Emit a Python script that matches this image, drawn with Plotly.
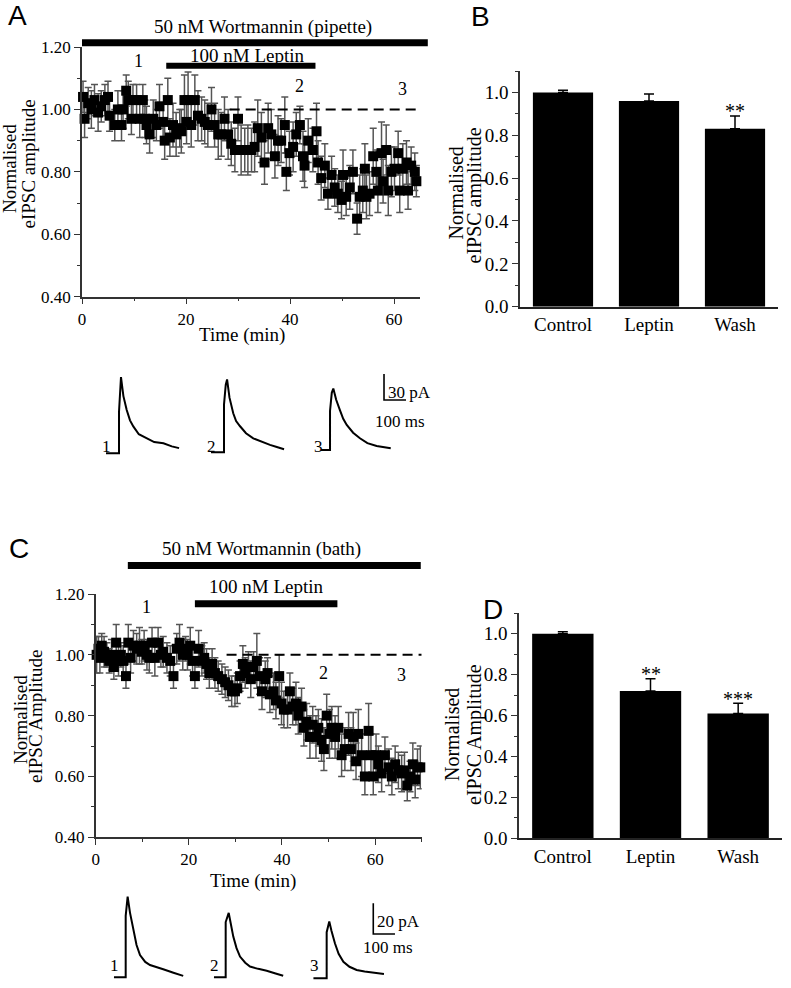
import plotly.graph_objects as go

# ---------------- data ----------------
# Panel A: 50 nM wortmannin (pipette) + 100 nM leptin time course
A_TIME = [0.2, 0.5, 1.2, 1.8, 2.4, 3.1, 3.7, 4.4, 5.0, 5.3,
          6.3, 6.9, 7.6, 7.9, 8.5, 8.9, 9.5, 9.8, 10.5, 11.1,
          11.7, 12.1, 12.4, 13.0, 13.7, 14.3, 14.9, 15.6, 15.9, 16.5,
          16.9, 17.5, 18.1, 18.8, 19.1, 19.7, 20.1, 20.4, 21.0, 21.7,
          22.3, 23.0, 23.6, 24.2, 24.9, 25.5, 26.2, 26.8, 27.4, 28.1,
          28.7, 29.4, 30.0, 30.6, 31.3, 31.9, 32.6, 33.2, 33.8, 34.5,
          35.1, 35.8, 36.4, 37.1, 37.7, 38.3, 39.0, 39.3, 39.9, 40.6,
          41.2, 41.9, 42.5, 42.8, 43.5, 44.4, 45.1, 45.4, 46.0, 46.7,
          47.3, 48.0, 48.6, 49.2, 49.9, 50.2, 50.8, 51.5, 52.1, 52.9,
          53.4, 54.0, 54.4, 54.7, 55.3, 56.0, 56.6, 56.9, 57.6, 57.9,
          58.5, 58.9, 59.5, 60.1, 60.8, 61.1, 61.7, 62.4, 62.7, 63.3,
          64.0, 64.3]
A_NORM = [1.04, 0.97, 1.02, 1.00, 1.03, 0.99, 1.01, 1.03, 1.04, 0.98,
          0.95, 1.00, 0.95, 1.00, 1.06, 1.03, 0.97, 1.03, 1.03, 0.97,
          1.03, 0.97, 0.95, 0.92, 0.97, 0.95, 1.01, 0.96, 0.90, 1.03,
          0.91, 0.95, 0.92, 0.94, 0.93, 1.03, 0.96, 1.03, 0.95, 1.03,
          0.98, 0.97, 0.96, 0.95, 1.00, 0.95, 0.92, 0.92, 0.97, 0.92,
          0.89, 0.87, 0.97, 0.87, 0.87, 0.87, 0.87, 0.88, 0.94, 0.91,
          0.83, 0.94, 0.92, 0.85, 0.90, 0.90, 0.95, 0.80, 0.86, 0.88,
          0.92, 0.95, 0.85, 0.82, 0.90, 0.87, 0.93, 0.83, 0.78, 0.82,
          0.73, 0.79, 0.75, 0.73, 0.71, 0.79, 0.72, 0.75, 0.80, 0.65,
          0.72, 0.74, 0.81, 0.72, 0.73, 0.85, 0.80, 0.74, 0.86, 0.77,
          0.87, 0.74, 0.80, 0.81, 0.86, 0.74, 0.81, 0.83, 0.74, 0.82,
          0.80, 0.77]
A_SEM = [0.05, 0.06, 0.05, 0.06, 0.05, 0.06, 0.05, 0.05, 0.05, 0.05,
         0.05, 0.06, 0.05, 0.06, 0.05, 0.06, 0.05, 0.05, 0.05, 0.06,
         0.05, 0.06, 0.06, 0.06, 0.06, 0.05, 0.07, 0.06, 0.06, 0.07,
         0.06, 0.07, 0.07, 0.06, 0.07, 0.08, 0.07, 0.09, 0.07, 0.08,
         0.08, 0.07, 0.07, 0.07, 0.07, 0.07, 0.08, 0.07, 0.07, 0.08,
         0.07, 0.07, 0.07, 0.08, 0.07, 0.08, 0.07, 0.08, 0.09, 0.08,
         0.07, 0.08, 0.08, 0.07, 0.08, 0.07, 0.09, 0.06, 0.07, 0.08,
         0.07, 0.06, 0.08, 0.07, 0.07, 0.07, 0.09, 0.07, 0.07, 0.07,
         0.05, 0.06, 0.06, 0.06, 0.06, 0.08, 0.06, 0.07, 0.07, 0.05,
         0.07, 0.07, 0.08, 0.07, 0.07, 0.09, 0.07, 0.07, 0.10, 0.07,
         0.08, 0.08, 0.08, 0.07, 0.07, 0.07, 0.08, 0.07, 0.06, 0.06,
         0.06, 0.05]

# Panel C: 50 nM wortmannin (bath) + 100 nM leptin time course
C_TIME = [0.2, 0.6, 0.9, 1.3, 1.8, 2.4, 2.9, 3.4, 3.9, 4.4,
          4.9, 5.4, 5.9, 6.5, 7.0, 7.5, 8.1, 8.8, 9.4, 9.9,
          10.4, 11.0, 11.5, 12.1, 12.7, 13.4, 14.0, 14.5, 15.3, 16.0,
          16.7, 17.4, 18.0, 18.7, 19.3, 19.7, 20.3, 20.8, 21.3, 22.1,
          22.8, 23.3, 23.8, 24.4, 25.0, 25.6, 26.3, 27.1, 27.8, 28.5,
          29.2, 29.9, 30.4, 31.0, 31.6, 32.1, 32.8, 33.3, 33.9, 34.6,
          35.2, 35.7, 36.4, 36.9, 37.4, 38.2, 38.7, 39.4, 39.9, 40.4,
          41.2, 41.7, 42.3, 43.0, 43.5, 44.2, 44.7, 45.3, 46.0, 46.6,
          47.3, 47.8, 48.5, 49.0, 49.6, 50.2, 50.7, 51.4, 52.1, 52.8,
          53.5, 54.3, 54.8, 55.3, 55.9, 56.4, 57.1, 57.8, 58.6, 59.1,
          59.6, 60.2, 60.7, 61.4, 62.1, 62.9, 63.6, 64.3, 65.0, 65.7,
          66.3, 66.9, 67.5, 68.1, 68.6, 69.1, 69.7]
C_NORM = [1.00, 1.02, 0.99, 1.03, 1.01, 1.00, 0.98, 1.00, 0.96, 1.04,
          0.98, 1.00, 0.98, 0.93, 1.04, 0.99, 1.03, 1.02, 1.03, 1.01,
          1.03, 1.00, 0.99, 1.04, 0.99, 1.04, 1.00, 1.01, 0.99, 0.98,
          0.93, 1.02, 1.04, 1.00, 1.02, 1.00, 1.03, 0.98, 0.93, 1.02,
          0.98, 0.99, 0.97, 0.94, 0.97, 0.94, 0.93, 0.92, 0.91, 0.90,
          0.88, 0.88, 0.89, 0.93, 0.97, 0.94, 0.96, 0.92, 0.96, 0.98,
          0.93, 0.88, 0.92, 0.94, 0.87, 0.88, 0.85, 0.93, 0.84, 0.82,
          0.82, 0.88, 0.83, 0.84, 0.80, 0.83, 0.76, 0.78, 0.73, 0.77,
          0.73, 0.76, 0.72, 0.69, 0.80, 0.74, 0.76, 0.73, 0.76, 0.67,
          0.69, 0.74, 0.69, 0.73, 0.65, 0.74, 0.67, 0.60, 0.75, 0.67,
          0.60, 0.67, 0.64, 0.61, 0.67, 0.63, 0.60, 0.64, 0.62, 0.61,
          0.62, 0.57, 0.60, 0.64, 0.59, 0.63, 0.63]
C_SEM = [0.06, 0.04, 0.05, 0.04, 0.05, 0.04, 0.04, 0.05, 0.04, 0.06,
         0.05, 0.04, 0.05, 0.04, 0.06, 0.05, 0.05, 0.05, 0.06, 0.04,
         0.05, 0.05, 0.05, 0.05, 0.06, 0.05, 0.04, 0.05, 0.05, 0.05,
         0.04, 0.05, 0.06, 0.05, 0.04, 0.05, 0.06, 0.05, 0.04, 0.06,
         0.05, 0.05, 0.05, 0.05, 0.05, 0.05, 0.05, 0.05, 0.05, 0.05,
         0.05, 0.05, 0.05, 0.05, 0.06, 0.05, 0.05, 0.06, 0.05, 0.09,
         0.06, 0.06, 0.06, 0.05, 0.06, 0.06, 0.06, 0.07, 0.07, 0.06,
         0.06, 0.06, 0.06, 0.07, 0.06, 0.06, 0.06, 0.06, 0.07, 0.06,
         0.07, 0.06, 0.07, 0.07, 0.07, 0.08, 0.07, 0.07, 0.07, 0.07,
         0.07, 0.07, 0.07, 0.08, 0.06, 0.08, 0.07, 0.06, 0.09, 0.07,
         0.06, 0.07, 0.06, 0.06, 0.06, 0.06, 0.06, 0.06, 0.06, 0.06,
         0.06, 0.05, 0.05, 0.07, 0.06, 0.06, 0.07]

# Drug application periods (min)
A_WORT = [0.0, 66.5]
A_LEP = [16.2, 44.9]
C_WORT = [6.9, 69.8]
C_LEP = [21.3, 51.9]
A_MARK_T = [10.8, 41.9, 61.6]
C_MARK_T = [10.8, 48.9, 65.6]
MARK_LABELS = ["1", "2", "3"]

# Bar summaries
BAR_CATS = ["Control", "Leptin", "Wash"]
B_MEAN = [1.00, 0.96, 0.83]
B_SEM = [0.01, 0.033, 0.06]
B_SIG = ["", "", "**"]
D_MEAN = [1.00, 0.72, 0.61]
D_SEM = [0.01, 0.06, 0.05]
D_SIG = ["", "**", "***"]

# Example eIPSC traces (time in ms relative to stimulus, current in pA above baseline)
A1_T = [-59, -30, 0, 0, 5, 9, 20, 35, 50, 65, 90, 126, 160, 202, 240, 273]
A1_I = [0, 0, 0, 48, 80, 88, 66, 50, 38, 31, 22, 17, 13, 11.5, 8, 6]
A2_T = [-59, -30, 0, 0, 8, 14, 25, 42, 55, 73, 100, 133, 170, 209, 240, 273]
A2_I = [0, 0, 0, 55, 78, 84, 63, 45, 36, 30, 22, 16, 12, 8.5, 6, 3.5]
A3_T = [-41, -20, 0, 0, 8, 15, 28, 45, 60, 76, 105, 136, 170, 212, 245, 276]
A3_I = [0, 0, 0, 45, 66, 71, 58, 46, 36, 29, 20, 13.5, 8, 4.6, 3, 2]
C1_T = [-54, -25, 0, 0, 5, 9, 20, 35, 50, 66, 90, 112, 140, 173, 220, 265]
C1_I = [0, 0, 0, 40, 50, 52.5, 42, 30.8, 21, 14.5, 10, 8, 6.5, 5.2, 3, 0.9]
C2_T = [-54, -25, 0, 0, 8, 14, 22, 35, 50, 66, 90, 112, 150, 189, 230, 265]
C2_I = [0, 0, 0, 36, 40, 42, 36, 26.5, 19, 13.5, 9.5, 7, 5.5, 4.3, 2.5, 1]
C3_T = [-61, -30, 0, 0, 7, 12, 22, 38, 55, 77, 105, 138, 175, 215, 264]
C3_I = [0, 0, 0, 30, 35, 37, 31, 22.8, 16, 10.8, 7.5, 5.4, 4.5, 3.7, 2.8]
A_SCALE_PA, A_SCALE_MS = 30, 100
C_SCALE_PA, C_SCALE_MS = 20, 100

# ---------------- layout helpers ----------------
W, H = 791, 988
SERIF = "Liberation Serif"
SANS = "Liberation Sans"


def dx(px):
    return px / W


def dy(py):
    return 1 - py / H


fig = go.Figure()

# ---- Panel A / C scatter with error bars ----
def add_timecourse(xa, ya, t, v, e):
    fig.add_trace(go.Scatter(
        x=t, y=v, mode="markers", xaxis=xa, yaxis=ya,
        marker=dict(symbol="square", size=10, color="black"),
        error_y=dict(type="data", array=e, color="#555555", thickness=1.5, width=3.5),
        cliponaxis=False, showlegend=False))


add_timecourse("x", "y", A_TIME, A_NORM, A_SEM)
add_timecourse("x3", "y3", C_TIME, C_NORM, C_SEM)

# dashed reference lines at 1.0
fig.add_trace(go.Scatter(x=[28.4, 65], y=[1.0, 1.0], mode="lines", xaxis="x", yaxis="y",
                         line=dict(color="black", width=2, dash="10px,6px"), showlegend=False))
fig.add_trace(go.Scatter(x=[28.1, 70], y=[1.0, 1.0], mode="lines", xaxis="x3", yaxis="y3",
                         line=dict(color="black", width=2, dash="10px,6px"), showlegend=False))

# drug bars on overlay axes (same scale, extended domain)
def add_bar(xa, ya, span, level, width):
    fig.add_trace(go.Scatter(x=span, y=[level, level], mode="lines", xaxis=xa, yaxis=ya,
                             line=dict(color="black", width=width), showlegend=False))


add_bar("x7", "y7", A_WORT, 1.214, 7)
add_bar("x7", "y7", A_LEP, 1.140, 6)
add_bar("x8", "y8", C_WORT, 1.294, 7)
add_bar("x8", "y8", C_LEP, 1.168, 7)

# ---- Panel B / D bars ----
def add_bars(xa, ya, mean, sem):
    fig.add_trace(go.Bar(
        x=BAR_CATS, y=mean, xaxis=xa, yaxis=ya, width=0.7,
        marker=dict(color="black", line=dict(width=0)),
        error_y=dict(type="data", symmetric=False, array=sem, arrayminus=[0] * len(sem),
                     color="black", thickness=1.5, width=5),
        showlegend=False))


add_bars("x2", "y2", B_MEAN, B_SEM)
add_bars("x4", "y4", D_MEAN, D_SEM)

# ---- eIPSC traces ----
def add_ephys(xa, ya, t, i, t0, i0):
    fig.add_trace(go.Scatter(x=[tt + t0 for tt in t], y=[ii + i0 for ii in i], mode="lines",
                             xaxis=xa, yaxis=ya, line=dict(color="black", width=2),
                             showlegend=False))


add_ephys("x5", "y5", A1_T, A1_I, 86.4, 0.0)
add_ephys("x5", "y5", A2_T, A2_I, 563.6, 1.2)
add_ephys("x5", "y5", A3_T, A3_I, 1045.5, 3.8)
add_ephys("x6", "y6", C1_T, C1_I, 118.4, 0.0)
add_ephys("x6", "y6", C2_T, C2_I, 579.2, 0.0)
add_ephys("x6", "y6", C3_T, C3_I, 1044.6, -0.65)

# scale bars
fig.add_trace(go.Scatter(x=[1290.9, 1290.9, 1290.9 + A_SCALE_MS], y=[61.5 + A_SCALE_PA, 61.5, 61.5],
                         mode="lines", xaxis="x5", yaxis="y5",
                         line=dict(color="black", width=1.6), showlegend=False))
fig.add_trace(go.Scatter(x=[1259.4, 1259.4, 1259.4 + C_SCALE_MS], y=[28.2 + C_SCALE_PA, 28.2, 28.2],
                         mode="lines", xaxis="x6", yaxis="y6",
                         line=dict(color="black", width=1.6), showlegend=False))

# ---------------- axes ----------------
tick_common = dict(showgrid=False, zeroline=False, showline=True, linecolor="#333333",
                   linewidth=1.5, ticks="outside", tickcolor="#333333", tickwidth=1.3,
                   ticklen=6, automargin=False)
hidden = dict(visible=False, showgrid=False, zeroline=False, automargin=False)

layout = dict(
    width=W, height=H, margin=dict(l=0, r=0, t=0, b=0, pad=0, autoexpand=False),
    autosize=False,
    paper_bgcolor="white", plot_bgcolor="rgba(0,0,0,0)",
    showlegend=False, bargap=0.3,
    font=dict(family=SERIF, color="black"),
    # Panel A
    xaxis=dict(domain=[dx(82), dx(420)], range=[0, 65], anchor="y", dtick=20,
               tickfont=dict(size=17, family=SERIF),
               minor=dict(dtick=10, ticks="outside", ticklen=3, tickcolor="#333333"), **tick_common),
    yaxis=dict(domain=[dy(296.7), dy(47)], range=[0.4, 1.2], anchor="x", dtick=0.2,
               tickformat=".2f", tickfont=dict(size=17, family=SERIF),
               minor=dict(dtick=0.1, ticks="outside", ticklen=3, tickcolor="#333333"), **tick_common),
    # Panel B
    xaxis2=dict(domain=[dx(520), dx(778)], range=[-0.5, 2.5], anchor="y2",
                tickfont=dict(size=19, family=SERIF), showgrid=False, zeroline=False,
                showline=True, linecolor="#222222", linewidth=1.5, ticks="", automargin=False),
    yaxis2=dict(domain=[dy(306.7), dy(71)], range=[0, 1.1], anchor="x2", dtick=0.2,
                tickformat=".1f", tickfont=dict(size=19, family=SERIF),
                minor=dict(dtick=0.1, ticks="outside", ticklen=3, tickcolor="#333333"), **tick_common),
    # Panel C
    xaxis3=dict(domain=[dx(95.7), dx(421.7)], range=[0, 70], anchor="y3", dtick=20,
                tickfont=dict(size=17, family=SERIF),
                minor=dict(dtick=10, ticks="outside", ticklen=3, tickcolor="#333333"), **tick_common),
    yaxis3=dict(domain=[dy(837.3), dy(594)], range=[0.4, 1.2], anchor="x3", dtick=0.2,
                tickformat=".2f", tickfont=dict(size=17, family=SERIF),
                minor=dict(dtick=0.1, ticks="outside", ticklen=3, tickcolor="#333333"), **tick_common),
    # Panel D
    xaxis4=dict(domain=[dx(519), dx(782)], range=[-0.5, 2.5], anchor="y4",
                tickfont=dict(size=19, family=SERIF), showgrid=False, zeroline=False,
                showline=True, linecolor="#222222", linewidth=1.5, ticks="", automargin=False),
    yaxis4=dict(domain=[dy(838.3), dy(613.3)], range=[0, 1.1], anchor="x4", dtick=0.2,
                tickformat=".1f", tickfont=dict(size=19, family=SERIF),
                minor=dict(dtick=0.1, ticks="outside", ticklen=3, tickcolor="#333333"), **tick_common),
    # trace insets
    xaxis5=dict(domain=[dx(100), dx(420)], range=[0, 1454.5], anchor="y5", **hidden),
    yaxis5=dict(domain=[dy(460), dy(365)], range=[-7.73, 101.9], anchor="x5", **hidden),
    xaxis6=dict(domain=[dx(100), dx(420)], range=[0, 1474.7], anchor="y6", **hidden),
    yaxis6=dict(domain=[dy(985), dy(885)], range=[-5.02, 60.13], anchor="x6", **hidden),
    # overlay axes for drug bars (same scale as A / C, extended domain)
    xaxis7=dict(domain=[dx(82), dx(440)], range=[0, (440 - 82) / 5.2], anchor="y7", **hidden),
    yaxis7=dict(domain=[dy(296.7), 1.0], range=[0.4, 1.2 + 47 / 312.0], anchor="x7", **hidden),
    xaxis8=dict(domain=[dx(95.7), dx(430)], range=[0, (430 - 95.7) / 4.657], anchor="y8", **hidden),
    yaxis8=dict(domain=[dy(837.3), dy(540)], range=[0.4, 1.2 + (594 - 540) / 304.1], anchor="x8", **hidden),
)
fig.update_layout(**layout)

ann = []


def text(x, y, s, xref="paper", yref="paper", size=19, family=SERIF, xanchor="center",
         yanchor="middle", angle=0):
    ann.append(dict(x=x, y=y, text=s, xref=xref, yref=yref, showarrow=False,
                    font=dict(size=size, family=family, color="black"),
                    xanchor=xanchor, yanchor=yanchor, textangle=angle))


# panel letters
text(dx(17), dy(15), "A", size=28, family=SANS)
text(dx(480), dy(16), "B", size=28, family=SANS)
text(dx(19), dy(548), "C", size=28, family=SANS)
text(dx(493), dy(609), "D", size=28, family=SANS)

# axis titles (one annotation per line to match the tight line spacing)
text(dx(10), dy(169), "Normalised", angle=-90)
text(dx(27.5), dy(164), "eIPSC amplitude", angle=-90)
text(dx(242), dy(335), "Time (min)")
text(dx(455.5), dy(193), "Normalised", angle=-90, size=20)
text(dx(474.5), dy(196), "eIPSC amplitude", angle=-90, size=20)
text(dx(20), dy(720), "Normalised", angle=-90)
text(dx(35), dy(716), "eIPSC Amplitude", angle=-90)
text(dx(253), dy(881), "Time (min)")
text(dx(452), dy(735), "Normalised", angle=-90, size=20)
text(dx(474.5), dy(734.5), "eIPSC Amplitude", angle=-90, size=20)

# drug labels
text(34.9, 1.265, "50 nM Wortmannin (pipette)", xref="x7", yref="y7")
text(31.8, 1.172, "100 nM Leptin", xref="x7", yref="y7")
text(35.7, 1.347, "50 nM Wortmannin (bath)", xref="x8", yref="y8")
text(36.5, 1.224, "100 nM Leptin", xref="x8", yref="y8")

# time-point markers
for lab, t, yv in zip(MARK_LABELS, A_MARK_T, [1.155, 1.075, 1.065]):
    text(t, yv, lab, xref="x7", yref="y7", size=18)
for lab, t, yv in zip(MARK_LABELS, C_MARK_T, [1.157, 0.94, 0.935]):
    text(t, yv, lab, xref="x8", yref="y8", size=18)

# significance
for cat, m, s, sig in zip(BAR_CATS, B_MEAN, B_SEM, B_SIG):
    if sig:
        text(cat, m + s + 0.022, sig, xref="x2", yref="y2", size=20)
for cat, m, s, sig in zip(BAR_CATS, D_MEAN, D_SEM, D_SIG):
    if sig:
        text(cat, m + s + 0.022, sig, xref="x4", yref="y4", size=20)

# trace labels and scale-bar labels
for lab, xv in zip(MARK_LABELS, [30.5, 509, 994]):
    text(xv, 8.4, lab, xref="x5", yref="y5", size=17)
text(1300, 70.7, f"{A_SCALE_PA} pA", xref="x5", yref="y5", size=17, xanchor="left")
text(1363.6, 36.5, f"{A_SCALE_MS} ms", xref="x5", yref="y5", size=17)
for lab, xv in zip(MARK_LABELS, [69.1, 529.9, 990.7]):
    text(xv, 7.4, lab, xref="x6", yref="y6", size=17)
text(1267, 36.2, f"{C_SCALE_PA} pA", xref="x6", yref="y6", size=17, xanchor="left")
text(1328.9, 19.5, f"{C_SCALE_MS} ms", xref="x6", yref="y6", size=17)

fig.update_layout(annotations=ann)
fig.write_html("out.html", config={"displayModeBar": False},
               post_script="document.body.style.margin='0px';document.body.style.overflow='hidden';")
